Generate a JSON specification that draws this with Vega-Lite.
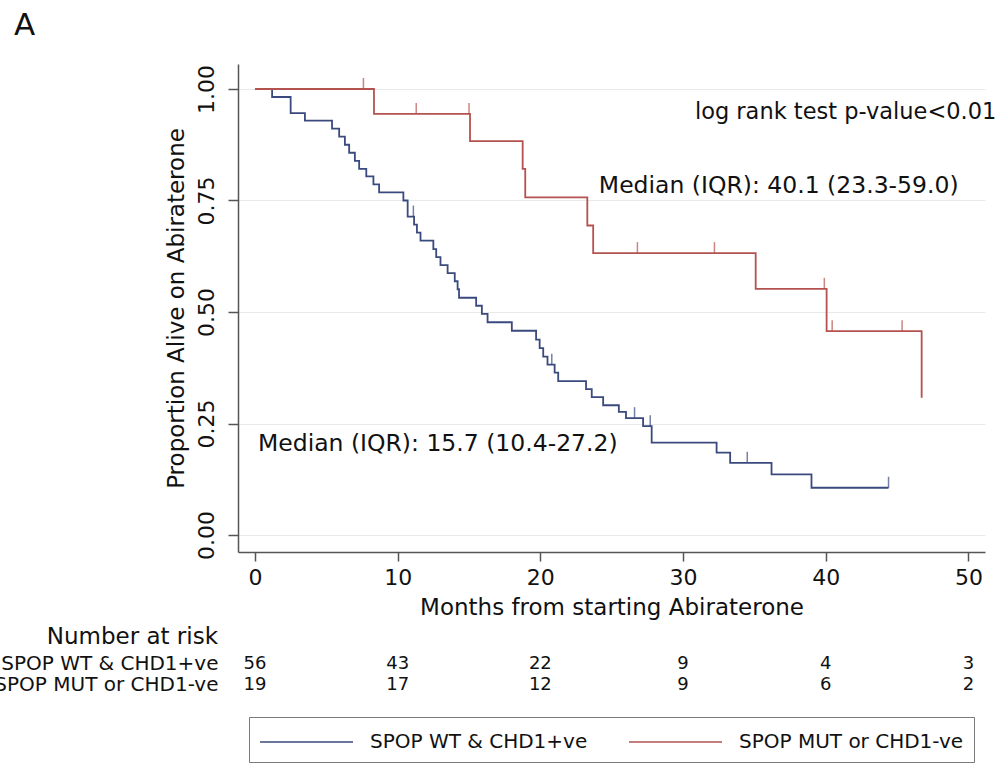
{
  "$schema": "https://vega.github.io/schema/vega-lite/v6.json",
  "padding": {"left": -7, "top": 10, "right": 0, "bottom": 0},
  "background": "white",
  "title": {"text": "A", "anchor": "start", "frame": "group", "dx": -224, "offset": 22, "fontSize": 31, "fontWeight": "normal", "font": "DejaVu Sans", "color": "#111"},
  "config": {
    "view": {"stroke": null},
    "font": "DejaVu Sans",
    "axis": {"labelFont": "DejaVu Sans", "titleFont": "DejaVu Sans", "labelColor": "#111", "titleColor": "#111", "titleFontWeight": "normal", "domainColor": "#555", "tickColor": "#555", "domainWidth": 1.5, "tickWidth": 1.5, "labelFlush": false, "labelOverlap": false}
  },
  "spacing": 7,
  "datasets": {
    "curves": [
      {"group": "SPOP WT & CHD1+ve", "month": 0, "surv": 1.0},
      {"group": "SPOP WT & CHD1+ve", "month": 1.2, "surv": 0.982},
      {"group": "SPOP WT & CHD1+ve", "month": 2.5, "surv": 0.946},
      {"group": "SPOP WT & CHD1+ve", "month": 3.5, "surv": 0.929},
      {"group": "SPOP WT & CHD1+ve", "month": 5.4, "surv": 0.911},
      {"group": "SPOP WT & CHD1+ve", "month": 5.9, "surv": 0.893},
      {"group": "SPOP WT & CHD1+ve", "month": 6.3, "surv": 0.875},
      {"group": "SPOP WT & CHD1+ve", "month": 6.6, "surv": 0.857},
      {"group": "SPOP WT & CHD1+ve", "month": 7.0, "surv": 0.839},
      {"group": "SPOP WT & CHD1+ve", "month": 7.3, "surv": 0.821},
      {"group": "SPOP WT & CHD1+ve", "month": 7.8, "surv": 0.804},
      {"group": "SPOP WT & CHD1+ve", "month": 8.3, "surv": 0.786},
      {"group": "SPOP WT & CHD1+ve", "month": 8.7, "surv": 0.768},
      {"group": "SPOP WT & CHD1+ve", "month": 10.4, "surv": 0.75},
      {"group": "SPOP WT & CHD1+ve", "month": 10.7, "surv": 0.714},
      {"group": "SPOP WT & CHD1+ve", "month": 11.15, "surv": 0.696},
      {"group": "SPOP WT & CHD1+ve", "month": 11.35, "surv": 0.678},
      {"group": "SPOP WT & CHD1+ve", "month": 11.6, "surv": 0.66},
      {"group": "SPOP WT & CHD1+ve", "month": 12.5, "surv": 0.641},
      {"group": "SPOP WT & CHD1+ve", "month": 12.7, "surv": 0.623},
      {"group": "SPOP WT & CHD1+ve", "month": 13.0, "surv": 0.605},
      {"group": "SPOP WT & CHD1+ve", "month": 13.5, "surv": 0.587},
      {"group": "SPOP WT & CHD1+ve", "month": 14.0, "surv": 0.569},
      {"group": "SPOP WT & CHD1+ve", "month": 14.2, "surv": 0.551},
      {"group": "SPOP WT & CHD1+ve", "month": 14.3, "surv": 0.532},
      {"group": "SPOP WT & CHD1+ve", "month": 15.5, "surv": 0.514},
      {"group": "SPOP WT & CHD1+ve", "month": 15.9, "surv": 0.496},
      {"group": "SPOP WT & CHD1+ve", "month": 16.3, "surv": 0.477},
      {"group": "SPOP WT & CHD1+ve", "month": 18.0, "surv": 0.458},
      {"group": "SPOP WT & CHD1+ve", "month": 19.7, "surv": 0.438},
      {"group": "SPOP WT & CHD1+ve", "month": 19.95, "surv": 0.419},
      {"group": "SPOP WT & CHD1+ve", "month": 20.2, "surv": 0.4},
      {"group": "SPOP WT & CHD1+ve", "month": 20.5, "surv": 0.382},
      {"group": "SPOP WT & CHD1+ve", "month": 21.0, "surv": 0.364},
      {"group": "SPOP WT & CHD1+ve", "month": 21.25, "surv": 0.345},
      {"group": "SPOP WT & CHD1+ve", "month": 23.2, "surv": 0.327},
      {"group": "SPOP WT & CHD1+ve", "month": 23.6, "surv": 0.309},
      {"group": "SPOP WT & CHD1+ve", "month": 24.4, "surv": 0.291},
      {"group": "SPOP WT & CHD1+ve", "month": 25.5, "surv": 0.276},
      {"group": "SPOP WT & CHD1+ve", "month": 26.0, "surv": 0.262},
      {"group": "SPOP WT & CHD1+ve", "month": 27.2, "surv": 0.244},
      {"group": "SPOP WT & CHD1+ve", "month": 27.8, "surv": 0.207},
      {"group": "SPOP WT & CHD1+ve", "month": 32.35, "surv": 0.185},
      {"group": "SPOP WT & CHD1+ve", "month": 33.3, "surv": 0.162},
      {"group": "SPOP WT & CHD1+ve", "month": 36.2, "surv": 0.136},
      {"group": "SPOP WT & CHD1+ve", "month": 39.0, "surv": 0.106},
      {"group": "SPOP WT & CHD1+ve", "month": 44.4, "surv": 0.106},
      {"group": "SPOP MUT or CHD1-ve", "month": 0, "surv": 1.0},
      {"group": "SPOP MUT or CHD1-ve", "month": 8.34, "surv": 0.944},
      {"group": "SPOP MUT or CHD1-ve", "month": 15.07, "surv": 0.883},
      {"group": "SPOP MUT or CHD1-ve", "month": 18.76, "surv": 0.821},
      {"group": "SPOP MUT or CHD1-ve", "month": 18.94, "surv": 0.757},
      {"group": "SPOP MUT or CHD1-ve", "month": 23.29, "surv": 0.694},
      {"group": "SPOP MUT or CHD1-ve", "month": 23.7, "surv": 0.632},
      {"group": "SPOP MUT or CHD1-ve", "month": 35.09, "surv": 0.552},
      {"group": "SPOP MUT or CHD1-ve", "month": 40.06, "surv": 0.457},
      {"group": "SPOP MUT or CHD1-ve", "month": 46.72, "surv": 0.308}
    ],
    "censored": [
      {"group": "SPOP WT & CHD1+ve", "month": 11.1, "surv": 0.714},
      {"group": "SPOP WT & CHD1+ve", "month": 20.8, "surv": 0.382},
      {"group": "SPOP WT & CHD1+ve", "month": 26.6, "surv": 0.262},
      {"group": "SPOP WT & CHD1+ve", "month": 27.7, "surv": 0.244},
      {"group": "SPOP WT & CHD1+ve", "month": 34.5, "surv": 0.162},
      {"group": "SPOP WT & CHD1+ve", "month": 44.4, "surv": 0.106},
      {"group": "SPOP MUT or CHD1-ve", "month": 7.6, "surv": 1.0},
      {"group": "SPOP MUT or CHD1-ve", "month": 11.3, "surv": 0.944},
      {"group": "SPOP MUT or CHD1-ve", "month": 15.0, "surv": 0.944},
      {"group": "SPOP MUT or CHD1-ve", "month": 26.8, "surv": 0.632},
      {"group": "SPOP MUT or CHD1-ve", "month": 32.2, "surv": 0.632},
      {"group": "SPOP MUT or CHD1-ve", "month": 39.9, "surv": 0.552},
      {"group": "SPOP MUT or CHD1-ve", "month": 40.45, "surv": 0.457},
      {"group": "SPOP MUT or CHD1-ve", "month": 45.35, "surv": 0.457}
    ],
    "notes": [
      {"label": "log rank test p-value<0.01", "month": 30.83, "surv": 0.933, "size": "small"},
      {"label": "Median (IQR): 40.1 (23.3-59.0)", "month": 24.1, "surv": 0.767, "size": "large"},
      {"label": "Median (IQR): 15.7 (10.4-27.2)", "month": 0.21, "surv": 0.188, "size": "large"}
    ],
    "risk": [
      {"group": "SPOP WT & CHD1+ve", "month": 0, "n": 56},
      {"group": "SPOP WT & CHD1+ve", "month": 10, "n": 43},
      {"group": "SPOP WT & CHD1+ve", "month": 20, "n": 22},
      {"group": "SPOP WT & CHD1+ve", "month": 30, "n": 9},
      {"group": "SPOP WT & CHD1+ve", "month": 40, "n": 4},
      {"group": "SPOP WT & CHD1+ve", "month": 50, "n": 3},
      {"group": "SPOP MUT or CHD1-ve", "month": 0, "n": 19},
      {"group": "SPOP MUT or CHD1-ve", "month": 10, "n": 17},
      {"group": "SPOP MUT or CHD1-ve", "month": 20, "n": 12},
      {"group": "SPOP MUT or CHD1-ve", "month": 30, "n": 9},
      {"group": "SPOP MUT or CHD1-ve", "month": 40, "n": 6},
      {"group": "SPOP MUT or CHD1-ve", "month": 50, "n": 2}
    ]
  },
  "vconcat": [
    {
      "width": 747,
      "height": 488,
      "layer": [
        {
          "data": {"name": "curves"},
          "mark": {"type": "line", "interpolate": "step-after", "strokeWidth": 1.8},
          "encoding": {
            "x": {"field": "month", "type": "quantitative", "scale": {"domain": [-1.19, 51.16], "nice": false, "zero": false},
              "axis": {"values": [0, 10, 20, 30, 40, 50], "format": "d", "title": "Months from starting Abiraterone", "grid": false, "tickSize": 9, "labelPadding": 6, "titlePadding": 8, "labelFontSize": 22, "titleFontSize": 23, "labelAngle": 0}},
            "y": {"field": "surv", "type": "quantitative", "scale": {"domain": [-0.038, 1.056], "nice": false, "zero": false},
              "axis": {"values": [0, 0.25, 0.5, 0.75, 1], "format": ".2f", "title": "Proportion Alive on Abiraterone", "grid": true, "gridColor": "#e9e9e9", "gridWidth": 1, "tickSize": 10, "labelAngle": -90, "labelAlign": "center", "labelBaseline": "bottom", "labelPadding": 10, "titlePadding": 7, "labelFontSize": 22, "titleFontSize": 23}},
            "color": {"field": "group", "type": "nominal",
              "scale": {"domain": ["SPOP WT & CHD1+ve", "SPOP MUT or CHD1-ve"], "range": ["#3b4a7e", "#b4524f"]},
              "legend": {"orient": "none", "legendX": 11, "legendY": 653, "direction": "horizontal", "title": null, "strokeColor": "#7a7a7a", "padding": 10, "symbolType": "M-1,0H5.643", "symbolSize": 784, "symbolStrokeWidth": 1.6, "labelOffset": 81, "labelFontSize": 20, "labelFont": "DejaVu Sans", "labelColor": "#111", "columnPadding": 37, "labelLimit": 0}}
          }
        },
        {
          "data": {"name": "censored"},
          "mark": {"type": "tick", "orient": "vertical", "size": 11, "thickness": 1.5, "yOffset": -5.5},
          "encoding": {
            "x": {"field": "month", "type": "quantitative"},
            "y": {"field": "surv", "type": "quantitative"},
            "color": {"field": "group", "type": "nominal", "legend": null}
          }
        },
        {
          "data": {"name": "notes"},
          "mark": {"type": "text", "align": "left", "baseline": "alphabetic", "color": "#111"},
          "encoding": {
            "x": {"field": "month", "type": "quantitative"},
            "y": {"field": "surv", "type": "quantitative"},
            "text": {"field": "label", "type": "nominal"},
            "size": {"field": "size", "type": "nominal", "scale": {"domain": ["small", "large"], "range": [22.5, 23.5]}, "legend": null}
          }
        }
      ]
    },
    {
      "width": 747,
      "height": 42,
      "title": {"text": "Number at risk", "anchor": "start", "frame": "group", "align": "right", "dx": -20, "offset": 4, "fontSize": 23, "fontWeight": "normal", "color": "#111", "font": "DejaVu Sans"},
      "data": {"name": "risk"},
      "mark": {"type": "text", "fontSize": 18, "color": "#111", "baseline": "middle", "align": "center"},
      "encoding": {
        "x": {"field": "month", "type": "quantitative", "scale": {"domain": [-1.19, 51.16], "nice": false, "zero": false}, "axis": null},
        "y": {"field": "group", "type": "nominal", "sort": ["SPOP WT & CHD1+ve", "SPOP MUT or CHD1-ve"], "scale": {"type": "point", "padding": 0.5},
          "axis": {"title": null, "domain": false, "ticks": false, "grid": false, "labelPadding": 20, "labelFontSize": 20, "labelLimit": 0}},
        "text": {"field": "n", "type": "quantitative"}
      }
    }
  ]
}
